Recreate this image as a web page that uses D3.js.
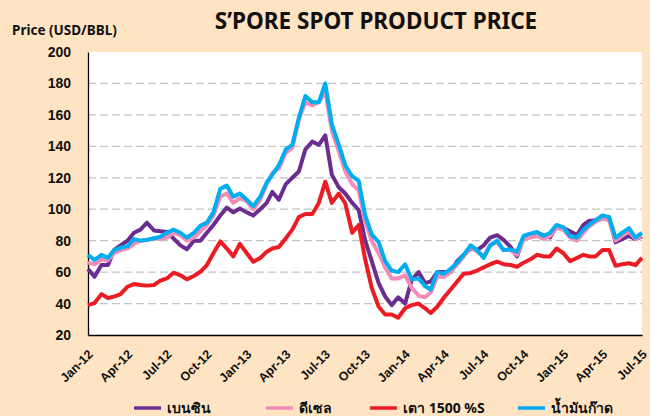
<!DOCTYPE html>
<html>
<head>
<meta charset="utf-8">
<script src="https://cdn.jsdelivr.net/npm/d3@7"></script>
<style>
  body { margin: 0; background: #FFE4C4; }
  svg { display: block; font-family: "Noto Sans", "DejaVu Sans", sans-serif; }
</style>
</head>
<body>
<svg id="chart" width="650" height="416"></svg>
<script>
// semi-monthly observations, Jan-12 .. Jul-15 (1st and 16th of each month)
var startDate = new Date(2012, 0, 1),
    endDate = new Date(2015, 6, 1);

var gasoline = [62, 57, 64.5, 64.5, 74, 77, 80, 85, 87, 91.4, 86.5, 86, 85.5, 81.5, 77, 74.5,
  80, 80, 85, 90, 96, 101, 98, 100.5, 98, 96, 100, 104, 111, 106, 116, 120,
  124, 138, 143, 141, 147, 122, 114, 110, 104, 99.5, 80, 67, 53, 44.5, 39, 44,
  40, 55, 60, 53, 54, 60, 60, 60, 67, 71, 75, 74, 77, 82, 83.5, 80.5,
  76, 70, 82, 84, 84.8, 83.5, 82, 89, 88, 86, 83.6, 90, 92.5, 93, 94, 95,
  79, 81, 83, 81, 82.5];

var diesel = [66, 65, 68, 67.5, 72, 74, 75, 78, 80, 80.5, 81.5, 81, 82, 85, 83.5, 80,
  82, 86, 90, 96, 108, 110, 104, 107, 105, 100, 106, 116, 123, 126, 136, 139,
  157, 168, 166, 168, 175, 150, 137, 124, 116, 112, 92, 80, 72, 63, 56, 56,
  58, 50, 45, 44, 47, 57, 57, 60, 65, 70, 76, 73, 70, 77, 79, 74,
  74, 71, 81, 82, 83, 81, 83, 88, 87, 82, 80, 85, 89, 92, 94, 93,
  80, 83, 86, 81, 83];

var fuelOil = [39, 40.3, 46, 43.5, 44.4, 46, 50.7, 52.4, 51.8, 51.4, 51.8, 54.6, 56, 59.6, 58, 55.4,
  57.5, 60.2, 64.5, 72, 79.5, 75, 70, 78, 72, 66.6, 69, 73, 75, 76, 81.5, 87,
  95, 97, 97, 104, 117.5, 104, 110, 103.8, 85, 90, 68, 50, 38, 33, 33, 31,
  37, 39, 40, 37, 34, 38, 44, 49, 54, 59, 59.5, 61, 63, 65, 66.6, 65,
  64.5, 63.4, 66, 68, 71, 70, 70, 75, 72, 67, 69, 71, 70, 70, 74, 74,
  64, 65, 65.6, 64.5, 69];

var kerosene = [71, 67.7, 71, 69, 74, 75.5, 76.5, 81, 80, 80.5, 81.5, 82.5, 85, 87, 85, 82,
  85, 89.5, 91.5, 98, 113, 115, 108, 110, 106, 102, 108, 117, 122, 128, 138, 141,
  158, 172, 168, 168, 180, 154, 141, 128, 121, 118, 96, 84, 79, 67, 61, 60,
  65, 55.5, 56, 51, 49, 60, 59, 62, 66, 71, 77, 74, 69, 77, 80, 74,
  74.5, 73, 83, 84.5, 85.5, 83, 85, 90, 88.5, 83, 82, 87, 90, 93, 96, 95,
  82, 85, 88, 82, 85];

var seriesNames = ["เบนซิน", "ดีเซล", "เตา 1500 %S", "น้ำมันก๊าด"];
var seriesColors = ["#6B2D90", "#F28DB8", "#ED1C24", "#00AEEF"];
var seriesValues = [gasoline, diesel, fuelOil, kerosene];
var yTicks = [20, 40, 60, 80, 100, 120, 140, 160, 180, 200];

var dates = [];
for (var i = 0; i < gasoline.length; i++) {
  dates.push(new Date(2012, Math.floor(i / 2), i % 2 ? 16 : 1));
}

var svg = d3.select("#chart");
var plotLeft = 88, plotRight = 642, plotTop = 52, plotBottom = 335;

var x = d3.scaleTime().domain([startDate, endDate]).range([plotLeft, plotRight]);
var y = d3.scaleLinear().domain([20, 200]).range([plotBottom, plotTop]);

/* plot area */
svg.append("rect")
  .attr("x", plotLeft).attr("y", plotTop)
  .attr("width", plotRight - plotLeft).attr("height", plotBottom - plotTop)
  .attr("fill", "#fff");

/* gridlines */
svg.append("g")
  .selectAll("line")
  .data(yTicks.filter(function(d) { return d > 20 && d < 200; }))
  .enter().append("line")
  .attr("x1", plotLeft).attr("x2", plotRight)
  .attr("y1", function(d) { return y(d); })
  .attr("y2", function(d) { return y(d); })
  .attr("stroke", "#C4C4C4")
  .attr("stroke-width", 1.3)
  .attr("stroke-dasharray", "8,4");

/* y axis */
var yAxis = svg.append("g")
  .attr("transform", "translate(" + plotLeft + ",0)")
  .call(d3.axisLeft(y).tickValues(yTicks).tickSize(0).tickPadding(17));
yAxis.select(".domain").attr("stroke", "#000").attr("stroke-width", 1.3);
yAxis.selectAll("text")
  .attr("font-size", 14).attr("font-weight", "bold").attr("fill", "#111");

/* x axis */
var xAxis = svg.append("g")
  .attr("transform", "translate(0," + plotBottom + ")")
  .call(d3.axisBottom(x).ticks(d3.timeMonth.every(3)).tickFormat(d3.timeFormat("%b-%y")).tickSize(0));
xAxis.select(".domain").attr("stroke", "#000").attr("stroke-width", 1.3);
xAxis.selectAll("text")
  .attr("font-size", 12.5).attr("font-weight", "bold").attr("fill", "#111")
  .attr("text-anchor", "end")
  .attr("x", 0).attr("y", 0).attr("dy", "0.35em")
  .attr("transform", "translate(2,17) rotate(-45)");

/* lines */
var line = d3.line()
  .x(function(d, i) { return x(dates[i]); })
  .y(function(d) { return y(d); });

svg.append("g")
  .selectAll("path")
  .data(seriesValues)
  .enter().append("path")
  .attr("d", line)
  .attr("fill", "none")
  .attr("stroke", function(d, i) { return seriesColors[i]; })
  .attr("stroke-width", 4)
  .attr("stroke-linejoin", "round");

/* titles */
svg.append("text")
  .attr("x", 376).attr("y", 29)
  .attr("text-anchor", "middle")
  .attr("font-size", 22.5).attr("font-weight", "bold").attr("fill", "#111")
  .text("S’PORE SPOT PRODUCT PRICE");

svg.append("text")
  .attr("x", 12).attr("y", 35)
  .attr("font-size", 13.5).attr("font-weight", "bold").attr("fill", "#111")
  .text("Price (USD/BBL)");

/* legend */
var legendX = [134, 266, 370, 518];
var legend = svg.append("g").selectAll("g")
  .data(seriesNames)
  .enter().append("g")
  .attr("transform", function(d, i) { return "translate(" + legendX[i] + ",408)"; });
legend.append("line")
  .attr("x1", 0).attr("x2", 27)
  .attr("stroke", function(d, i) { return seriesColors[i]; })
  .attr("stroke-width", 3.5);
legend.append("text")
  .attr("x", 33).attr("dy", "0.35em")
  .attr("font-size", 14).attr("font-weight", "bold").attr("fill", "#111")
  .text(function(d) { return d; });
</script>
</body>
</html>
